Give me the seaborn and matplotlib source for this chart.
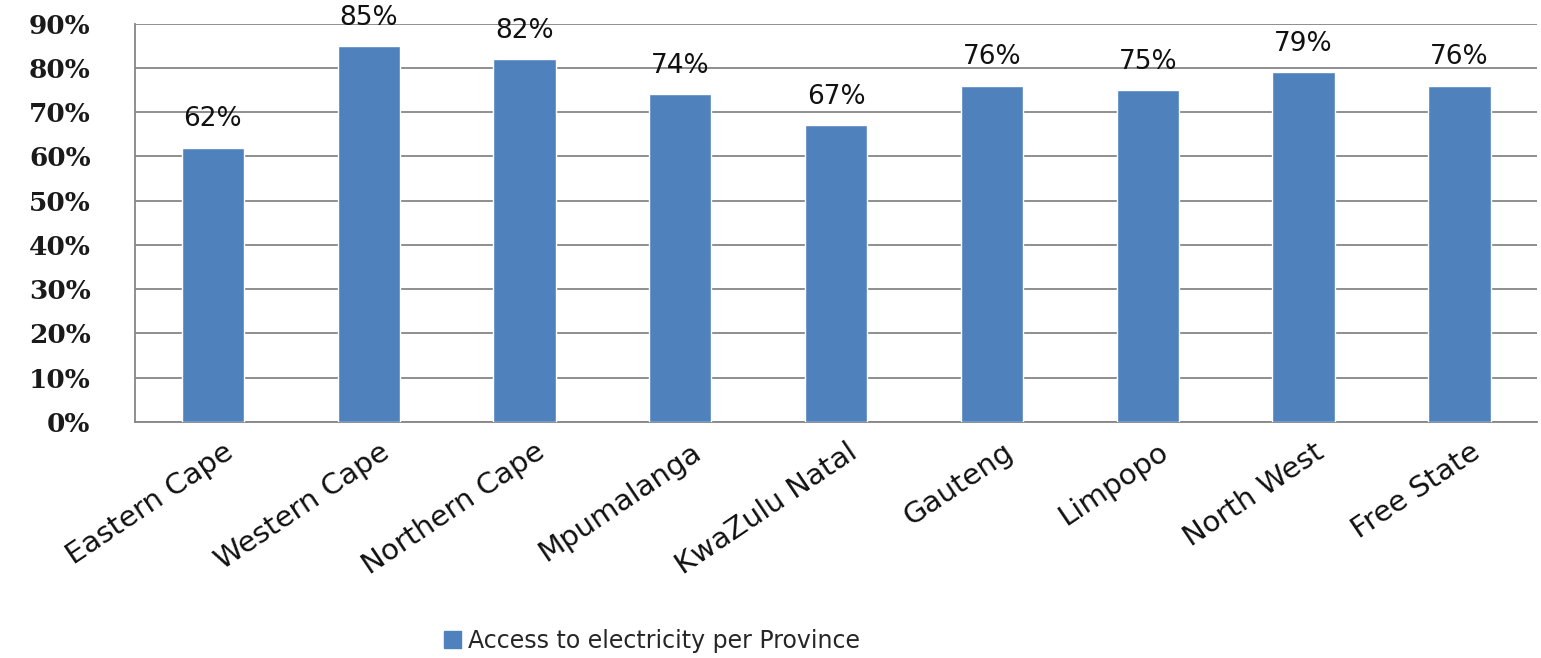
import numpy as np
import pandas as pd
import matplotlib
matplotlib.use("Agg")
import matplotlib.pyplot as plt
import matplotlib.transforms as mtransforms
import seaborn as sns
from matplotlib.ticker import PercentFormatter, FixedLocator
from matplotlib.patches import Patch

provinces = ["Eastern Cape", "Western Cape", "Northern Cape", "Mpumalanga",
             "KwaZulu Natal", "Gauteng", "Limpopo", "North West", "Free State"]
access_pct = [62, 85, 82, 74, 67, 76, 75, 79, 76]
series_name = "Access to electricity per Province"

sns.set_style("white")
plt.rcParams["font.family"] = ["DejaVu Sans"]

df = pd.DataFrame({"Province": provinces, "Access": access_pct})

fig = plt.figure(figsize=(15.41, 6.58), dpi=100)
ax = fig.add_axes([0.0876, 0.359, 0.910, 0.605])

bar_color = "#4F81BD"
sns.barplot(data=df, x="Province", y="Access", color=bar_color, width=0.40,
            saturation=1, ax=ax, zorder=3)

ax.set_ylim(0, 90)
ax.set_xlim(-0.5, len(provinces) - 0.5)
ax.set_yticks(np.arange(0, 91, 10))
ax.yaxis.set_major_formatter(PercentFormatter(decimals=0))
ax.grid(axis="y", color="#868686", linewidth=1.3, zorder=0)
ax.set_xlabel("")
ax.set_ylabel("")

for s in ["top", "right"]:
    ax.spines[s].set_visible(False)
for s in ["left", "bottom"]:
    ax.spines[s].set_color("#868686")
    ax.spines[s].set_linewidth(1.3)

# y ticks: outward gray marks, bold serif labels
ax.tick_params(axis="y", which="major", direction="out", length=12, width=1.3,
               color="#868686", pad=20)
for lbl in ax.get_yticklabels():
    lbl.set_fontfamily("DejaVu Serif")
    lbl.set_fontweight("bold")
    lbl.set_fontsize(19)
    lbl.set_color("#1a1a1a")

# x: category boundary tick marks, rotated labels at bar centers
ax.xaxis.set_minor_locator(FixedLocator(np.arange(-0.5, len(provinces), 1.0)))
ax.tick_params(axis="x", which="minor", direction="out", length=7, width=1.3,
               color="#868686")
ax.tick_params(axis="x", which="major", length=0, pad=20)
ax.set_xticks(range(len(provinces)))
ax.set_xticklabels(provinces, rotation=34, ha="right", va="center",
                   rotation_mode="anchor", fontsize=21, color="#111111")
shift = mtransforms.ScaledTranslation(18 / 100, 0, fig.dpi_scale_trans)
for lbl in ax.get_xticklabels():
    lbl.set_transform(lbl.get_transform() + shift)

for i, v in enumerate(access_pct):
    ax.annotate(f"{v}%", (i, v), xytext=(0, 11), textcoords="offset points",
                ha="center", va="bottom", fontsize=19, color="#111111")

handle = Patch(facecolor=bar_color, edgecolor=bar_color, label=series_name)
fig.legend(handles=[handle], loc="center", bbox_to_anchor=(0.423, 0.026),
           frameon=False, fontsize=17, handlelength=0.7, handleheight=0.7,
           handletextpad=0.3)

fig.savefig("out.png", dpi=100)
